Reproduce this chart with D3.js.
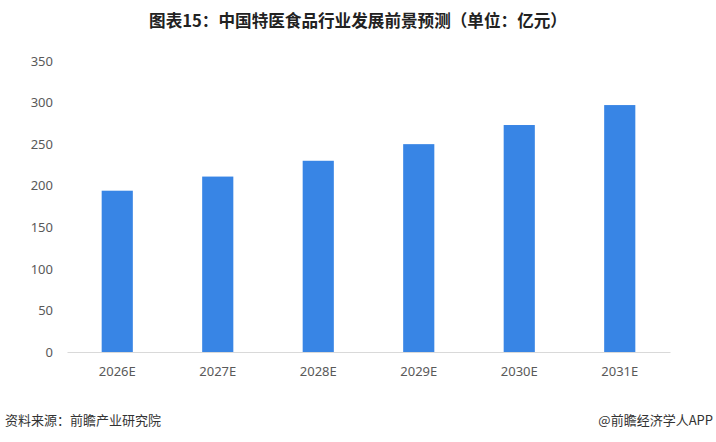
<!DOCTYPE html>
<html>
<head>
<meta charset="utf-8">
<script src="https://cdn.jsdelivr.net/npm/d3@7"></script>
<style>
	body { margin: 0; background: #ffffff; }
	svg { display: block; font-family: "Noto Sans CJK SC", "Noto Sans", sans-serif; }
</style>
</head>
<body>
<div id="chart"></div>
<script>
// Data
var years = ["2026E", "2027E", "2028E", "2029E", "2030E", "2031E"];
var values = [194, 211, 230, 250, 273, 297];
var yTicks = [0, 50, 100, 150, 200, 250, 300, 350];

var titleText = "图表15：中国特医食品行业发展前景预测（单位：亿元）";
var sourceText = "资料来源：前瞻产业研究院";
var brandText = "@前瞻经济学人APP";

(function(){
	var width = 716, height = 442;
	var left = 67, right = 670, top = 61, bottom = 352;

	var svg = d3.select("#chart").append("svg")
		.attr("width", width)
		.attr("height", height);

	var x = d3.scaleBand()
		.domain(years)
		.range([left, right])
		.paddingInner(0.69)
		.paddingOuter(0.345);

	var y = d3.scaleLinear()
		.domain([0, 350])
		.range([bottom, top]);

	// Title
	svg.append("text")
		.attr("x", 358)
		.attr("y", 27)
		.attr("text-anchor", "middle")
		.attr("font-size", 16.6)
		.attr("font-weight", "bold")
		.attr("fill", "#222222")
		.text(titleText);

	// Y axis (labels only)
	var yAxis = svg.append("g")
		.attr("transform", "translate(" + left + ",0)")
		.call(d3.axisLeft(y).tickValues(yTicks).tickSize(0).tickPadding(14));
	yAxis.select(".domain").remove();
	yAxis.selectAll("text")
		.attr("font-size", 13)
		.attr("fill", "#595959")
		.style("font-family", "'Noto Sans', sans-serif");

	// Bars
	svg.append("g").selectAll("rect")
		.data(values)
		.enter().append("rect")
		.attr("x", function(d, i){ return x(years[i]); })
		.attr("y", function(d){ return y(d); })
		.attr("width", x.bandwidth())
		.attr("height", function(d){ return y(0) - y(d); })
		.attr("fill", "#3885E5");

	// X axis
	var xAxis = svg.append("g")
		.attr("transform", "translate(0," + bottom + ")")
		.call(d3.axisBottom(x).tickSize(0).tickPadding(15));
	xAxis.select(".domain")
		.attr("stroke", "#d9d9d9")
		.attr("stroke-width", 1);
	xAxis.selectAll("text")
		.attr("font-size", 13)
		.attr("fill", "#595959")
		.style("font-family", "'Noto Sans', sans-serif");

	// Footer
	svg.append("text")
		.attr("x", 5)
		.attr("y", 425)
		.attr("font-size", 13)
		.attr("fill", "#333333")
		.text(sourceText);

	svg.append("text")
		.attr("x", 713)
		.attr("y", 425)
		.attr("text-anchor", "end")
		.attr("font-size", 13)
		.attr("fill", "#333333")
		.text(brandText);
})();
</script>
</body>
</html>
